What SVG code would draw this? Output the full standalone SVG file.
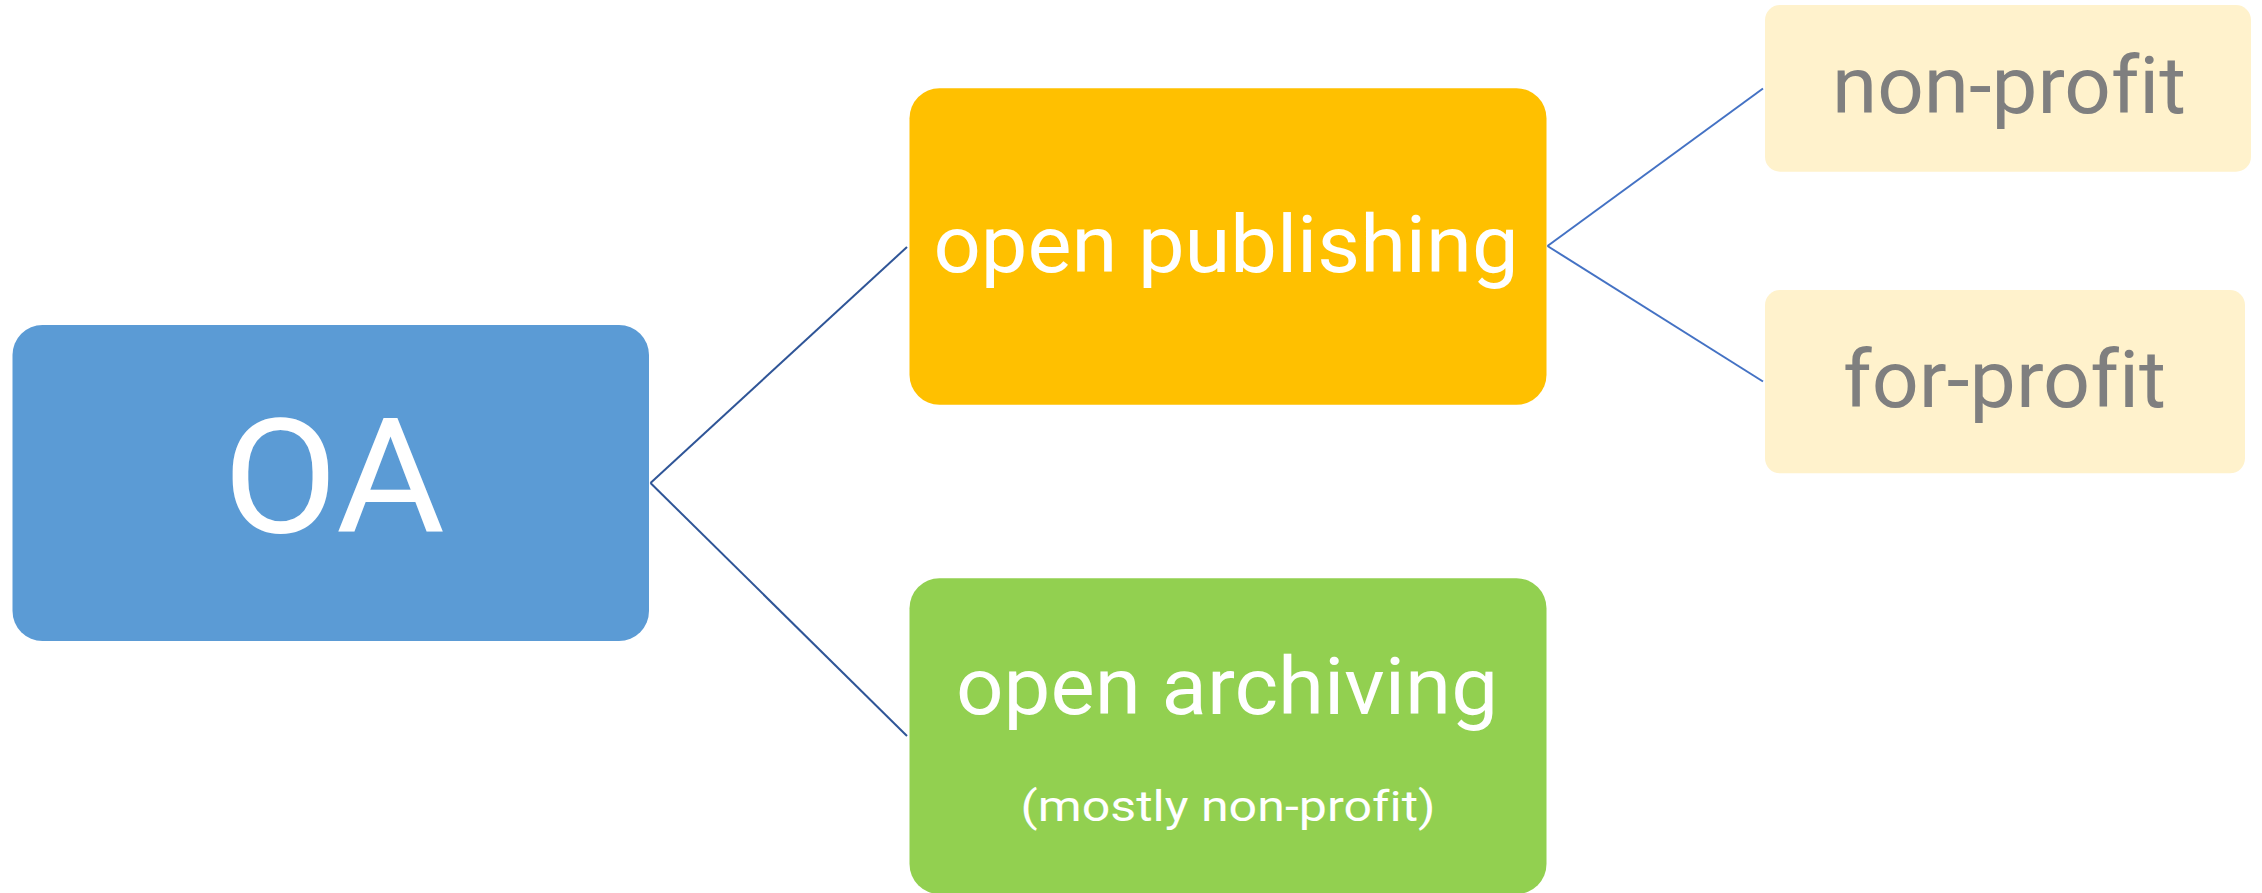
<svg xmlns="http://www.w3.org/2000/svg" width="2262" height="893" viewBox="0 0 2262 893">
<style>
.t{font-family:Roboto,"Liberation Sans",sans-serif;text-anchor:middle;font-variant-ligatures:none}
.w{fill:#ffffff}
.g{fill:#7f7f7f}
.c1{stroke:#2f5597;stroke-width:2;fill:none}
.c2{stroke:#4472c4;stroke-width:2;fill:none}
</style>
<rect width="2262" height="893" fill="#ffffff"/>
<g id="connectors">
<line class="c1" x1="650.5" y1="483" x2="907" y2="247"/>
<line class="c1" x1="650.5" y1="483" x2="907" y2="736"/>
<line class="c2" x1="1547.5" y1="246" x2="1763" y2="88.5"/>
<line class="c2" x1="1547.5" y1="246" x2="1763" y2="381.5"/>
</g>
<g id="OA">
<rect x="12.5" y="325" width="636.5" height="316" rx="30" ry="30" fill="#5b9bd5"/>
<text class="t w" x="334" y="532" font-size="159" textLength="222" lengthAdjust="spacingAndGlyphs">OA</text>
</g>
<g id="open-publishing">
<rect x="909.5" y="88.3" width="637" height="316.4" rx="30" ry="30" fill="#ffc000"/>
<text class="t w" x="1226" y="272" font-size="80" textLength="585" lengthAdjust="spacingAndGlyphs">open publishing</text>
</g>
<g id="open-archiving">
<rect x="909.5" y="578.3" width="637" height="315.7" rx="30" ry="30" fill="#92d050"/>
<text class="t w" x="1227" y="714" font-size="80" textLength="542" lengthAdjust="spacingAndGlyphs">open archiving</text>
<text class="t w" x="1228" y="821" font-size="43" textLength="415" lengthAdjust="spacingAndGlyphs">(mostly non-profit)</text>
</g>
<g id="non-profit">
<rect x="1765" y="5" width="486" height="166.7" rx="15" ry="15" fill="#fff2cc"/>
<text class="t g" x="2009" y="113.3" font-size="80" textLength="354" lengthAdjust="spacingAndGlyphs">non-profit</text>
</g>
<g id="for-profit">
<rect x="1765" y="290" width="480" height="183.3" rx="15" ry="15" fill="#fff2cc"/>
<text class="t g" x="2004.5" y="406.7" font-size="80" textLength="323" lengthAdjust="spacingAndGlyphs">for-profit</text>
</g>
</svg>
